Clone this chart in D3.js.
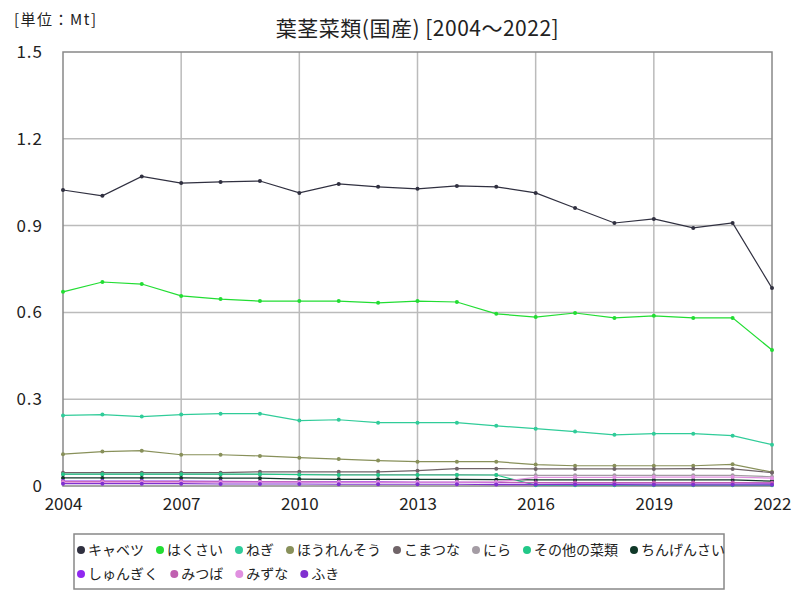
<!DOCTYPE html>
<html><head><meta charset="utf-8">
<script src="https://cdn.jsdelivr.net/npm/d3@7"></script>
<style>body{margin:0;background:#fff}svg{display:block}text{font-family:"Noto Sans CJK JP","Noto Sans",sans-serif}</style>
</head><body>
<svg id="c" width="800" height="600"></svg>
<script>
const years = [2004,2005,2006,2007,2008,2009,2010,2011,2012,2013,2014,2015,2016,2017,2018,2019,2020,2021,2022];
const seriesNames = ["キャベツ","はくさい","ねぎ","ほうれんそう","こまつな","にら","その他の菜類","ちんげんさい","しゅんぎく","みつば","みずな","ふき"];
const seriesColors = ["#303040","#22dd33","#30cc99","#88905a","#706468","#a49ca4","#22c888","#103828","#9028f0","#c060b0","#e090e0","#8030d0"];
const cabbage   = [1.023,1.003,1.070,1.047,1.051,1.054,1.013,1.044,1.034,1.027,1.037,1.034,1.013,0.961,0.909,0.923,0.892,0.909,0.684];
const hakusai   = [0.671,0.705,0.698,0.657,0.646,0.639,0.639,0.639,0.633,0.639,0.636,0.595,0.584,0.598,0.581,0.588,0.581,0.581,0.470];
const negi      = [0.244,0.247,0.240,0.247,0.250,0.250,0.226,0.229,0.219,0.219,0.219,0.208,0.198,0.188,0.177,0.181,0.181,0.174,0.143];
const horenso   = [0.110,0.119,0.122,0.108,0.108,0.104,0.098,0.093,0.088,0.084,0.084,0.084,0.074,0.070,0.070,0.070,0.070,0.075,0.048];
const komatsuna = [0.046,0.046,0.046,0.046,0.046,0.049,0.049,0.049,0.049,0.053,0.060,0.060,0.059,0.059,0.059,0.059,0.060,0.059,0.046];
const nira      = [0.040,0.040,0.040,0.040,0.040,0.040,0.040,0.039,0.039,0.039,0.039,0.038,0.037,0.037,0.037,0.037,0.037,0.037,0.032];
const sonota    = [0.041,0.041,0.041,0.041,0.041,0.041,0.039,0.038,0.038,0.038,0.038,0.038,0.003,0.003,0.003,0.003,0.003,0.003,0.003];
const chingen   = [0.028,0.028,0.028,0.028,0.027,0.027,0.024,0.023,0.023,0.023,0.023,0.022,0.021,0.021,0.021,0.021,0.021,0.021,0.017];
const shungiku  = [0.017,0.017,0.017,0.017,0.016,0.015,0.014,0.014,0.014,0.013,0.013,0.012,0.012,0.011,0.011,0.011,0.011,0.011,0.010];
const mitsuba   = [0.015,0.015,0.015,0.015,0.014,0.014,0.014,0.013,0.013,0.013,0.013,0.013,0.012,0.012,0.012,0.012,0.012,0.012,0.011];
const mizuna    = [0.013,0.013,0.013,0.013,0.013,0.013,0.013,0.013,0.013,0.013,0.013,0.014,0.030,0.030,0.030,0.031,0.031,0.031,0.027];
const fuki      = [0.008,0.008,0.008,0.008,0.007,0.007,0.007,0.006,0.006,0.006,0.006,0.005,0.005,0.005,0.005,0.004,0.004,0.004,0.004];
const seriesValues = [cabbage,hakusai,negi,horenso,komatsuna,nira,sonota,chingen,shungiku,mitsuba,mizuna,fuki];
const yTicks = [0,0.3,0.6,0.9,1.2,1.5];
const xTicks = [2004,2007,2010,2013,2016,2019,2022];
const titleText = "葉茎菜類(国産) [2004～2022]";
const unitText = "[単位：Mt]";

const svg = d3.select("#c");
const L=63,R=772,T=52,B=486;
const x = d3.scaleLinear().domain([2004,2022]).range([L,R]);
const y = d3.scaleLinear().domain([0,1.5]).range([B,T]);

// grid
svg.append("g").selectAll("line").data(yTicks.filter(d=>d>0&&d<1.5)).join("line")
  .attr("x1",L).attr("x2",R).attr("y1",d=>y(d)).attr("y2",d=>y(d))
  .attr("stroke","#bbb").attr("stroke-width",1.5);
svg.append("g").selectAll("line").data(xTicks.filter(d=>d>2004&&d<2022)).join("line")
  .attr("y1",T).attr("y2",B).attr("x1",d=>x(d)).attr("x2",d=>x(d))
  .attr("stroke","#bbb").attr("stroke-width",1.5);
svg.append("rect").attr("x",L).attr("y",T).attr("width",R-L).attr("height",B-T)
  .attr("fill","none").attr("stroke","#888").attr("stroke-width",1.5);

// axes
const ya = svg.append("g").attr("transform",`translate(${L},0)`)
  .call(d3.axisLeft(y).tickValues(yTicks).tickSize(0).tickPadding(20).tickFormat(d=>d===0?"0":d3.format(".1f")(d)));
ya.select(".domain").remove();
ya.selectAll("text").attr("font-size",17).attr("fill","#222").attr("letter-spacing","1px")
  .attr("font-family","'Noto Sans CJK JP',sans-serif");
const xa = svg.append("g").attr("transform",`translate(0,${B})`)
  .call(d3.axisBottom(x).tickValues(xTicks).tickSize(0).tickPadding(12).tickFormat(d3.format("d")));
xa.select(".domain").remove();
xa.selectAll("text").attr("font-size",17).attr("fill","#222")
  .attr("font-family","'Noto Sans CJK JP',sans-serif");

// lines
const line = d3.line().x((d,i)=>x(years[i])).y(d=>y(d));
const g = svg.append("g");
seriesValues.forEach((vals,k)=>{
  const c = seriesColors[k];
  g.append("path").attr("d",line(vals)).attr("fill","none").attr("stroke",c).attr("stroke-width",1.2);
  g.selectAll(null).data(vals).join("circle")
    .attr("cx",(d,i)=>x(years[i])).attr("cy",d=>y(d)).attr("r",2).attr("fill",c);
});

// title
svg.append("text").attr("x",(L+R)/2).attr("y",36).attr("text-anchor","middle")
  .attr("font-size",21).attr("letter-spacing","0.5px").attr("fill","#222").text(titleText);
svg.append("text").attr("x",14).attr("y",25).attr("font-size",15).attr("letter-spacing","1.5px").attr("fill","#222").text(unitText);

// legend
const lg = svg.append("g");
lg.append("rect").attr("x",74).attr("y",534).attr("width",650).attr("height",55)
  .attr("fill","#fff").attr("stroke","#888").attr("stroke-width",1.5);
const rows = [[0,1,2,3,4,5,6,7],[8,9,10,11]];
rows.forEach((row,r)=>{
  let cx = 78;
  const cy = 550 + r*24;
  row.forEach(k=>{
    lg.append("circle").attr("cx",cx+3).attr("cy",cy).attr("r",4).attr("fill",seriesColors[k]);
    const t = lg.append("text").attr("x",cx+10).attr("y",cy+5).attr("font-size",14).attr("fill","#222").text(seriesNames[k]);
    cx = cx + 10 + t.node().getComputedTextLength() + 13;
  });
});
</script>
</body></html>
